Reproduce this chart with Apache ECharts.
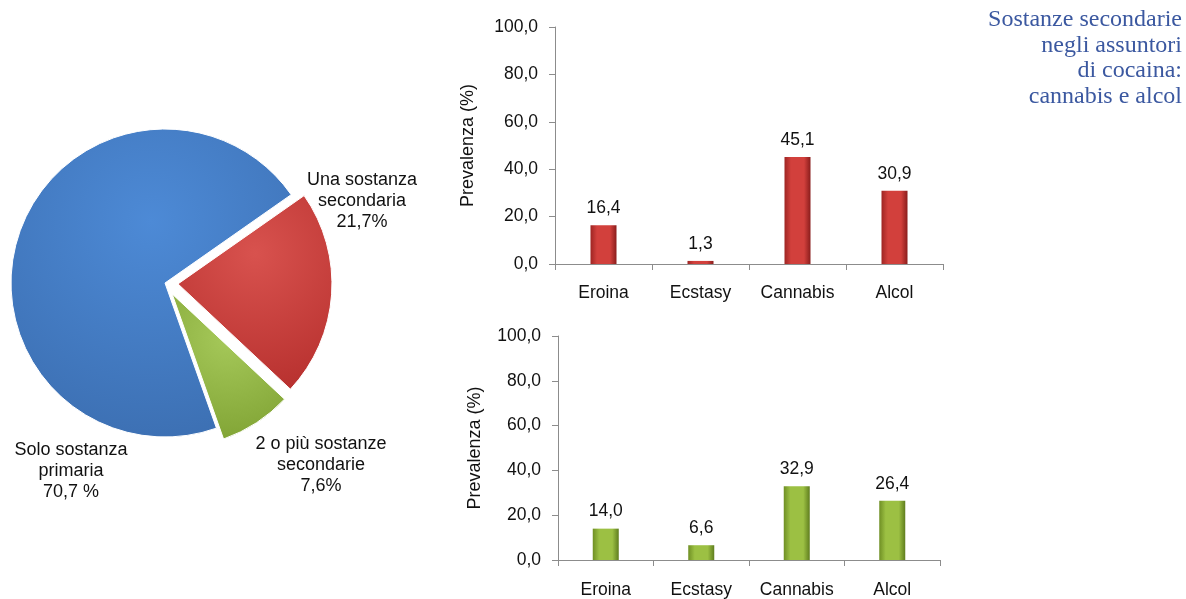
<!DOCTYPE html>
<html>
<head>
<meta charset="utf-8">
<script src="https://cdn.jsdelivr.net/npm/echarts@6/dist/echarts.min.js"></script>
<style>
  html, body { margin: 0; padding: 0; background: #fff; }
  #chart { width: 1186px; height: 599px; }
</style>
</head>
<body>
<div id="chart"></div>
<script>
// dati
const pieNames = ["Una sostanza\nsecondaria", "2 o più sostanze\nsecondarie", "Solo sostanza\nprimaria"];
const pieValues = [21.7, 7.6, 70.7];
const pieSuffix = ["%", "%", " %"];
const categories = ["Eroina", "Ecstasy", "Cannabis", "Alcol"];
const topValues = [16.4, 1.3, 45.1, 30.9];
const bottomValues = [14.0, 6.6, 32.9, 26.4];
const titleText = "Sostanze secondarie\nnegli assuntori\ndi cocaina:\ncannabis e alcol";

const labelPos = [[362, 201], [321, 465], [71, 471]];

const chart = echarts.init(document.getElementById("chart"));
const font = "Liberation Sans, Arial, sans-serif";
const comma = (v) => Number(v).toFixed(1).replace(".", ",");

function barGrad(edge, mid, edge2) {
  return new echarts.graphic.LinearGradient(0, 0, 1, 0, [
    { offset: 0, color: edge },
    { offset: 0.25, color: mid },
    { offset: 0.75, color: mid },
    { offset: 1, color: edge2 },
  ]);
}

function pieGrad(light, dark) {
  return new echarts.graphic.RadialGradient(0.5, 0.3, 0.9, [
    { offset: 0, color: light },
    { offset: 1, color: dark },
  ]);
}

const yAxisBase = (idx, gap) => ({
  gridIndex: idx,
  type: "value",
  min: 0,
  max: 100,
  interval: 20,
  name: "Prevalenza (%)",
  nameLocation: "middle",
  nameGap: gap,
  nameTextStyle: { fontFamily: font, fontSize: 18, color: "#111" },
  axisLine: { show: true, lineStyle: { color: "#8c8c8c" } },
  axisTick: { show: true, length: 6, lineStyle: { color: "#8c8c8c" } },
  splitLine: { show: false },
  axisLabel: { fontFamily: font, fontSize: 17.5, color: "#111", margin: 17, formatter: comma },
});

const xAxisBase = (idx, margin) => ({
  gridIndex: idx,
  type: "category",
  data: categories,
  axisLine: { lineStyle: { color: "#8c8c8c" } },
  axisTick: { show: true, length: 6, lineStyle: { color: "#8c8c8c" } },
  axisLabel: { fontFamily: font, fontSize: 17.5, color: "#111", margin: margin, interval: 0, hideOverlap: false },
});

const barLabel = {
  show: true,
  position: "top",
  distance: 8,
  fontFamily: font,
  fontSize: 17.5,
  color: "#111",
  formatter: (p) => comma(p.value),
};

const graphics = [
  {
    type: "text",
    x: 1182,
    y: 7,
    style: {
      text: titleText,
      font: "24px Liberation Serif, Times New Roman, serif",
      fill: "#3b58a0",
      lineHeight: 25.5,
      align: "right",
      verticalAlign: "top",
    },
  },
];
pieNames.forEach((n, i) => {
  graphics.push({
    type: "text",
    x: labelPos[i][0],
    y: labelPos[i][1],
    style: {
      text: n + "\n" + comma(pieValues[i]) + pieSuffix[i],
      font: "18px " + font,
      fill: "#111",
      lineHeight: 21,
      align: "center",
      verticalAlign: "middle",
    },
  });
});

chart.setOption({
  animation: false,
  graphic: graphics,
  grid: [
    { left: 555, top: 27, right: 243, bottom: 335 },
    { left: 558, top: 336, right: 246, bottom: 37 },
  ],
  xAxis: [xAxisBase(0, 20), xAxisBase(1, 21)],
  yAxis: [yAxisBase(0, 78), yAxisBase(1, 74)],
  series: [
    {
      type: "pie",
      center: [165, 283],
      radius: 154,
      startAngle: 35,
      selectedMode: "multiple",
      selectedOffset: 13,
      itemStyle: { borderColor: "#fff", borderWidth: 1 },
      label: { show: false },
      labelLine: { show: false },
      emphasis: { disabled: true },
      data: [
        { name: pieNames[0], value: pieValues[0], selected: true, itemStyle: { color: pieGrad("#d8524e", "#b8312f") } },
        { name: pieNames[1], value: pieValues[1], selected: true, itemStyle: { color: pieGrad("#a6c95a", "#82a536") } },
        { name: pieNames[2], value: pieValues[2], itemStyle: { color: pieGrad("#4d8ad6", "#3a6cae") } },
      ],
    },
    {
      type: "bar",
      xAxisIndex: 0,
      yAxisIndex: 0,
      barWidth: 26,
      data: topValues,
      label: barLabel,
      itemStyle: { color: barGrad("#9e2523", "#d2403c", "#8a1d1c") },
    },
    {
      type: "bar",
      xAxisIndex: 1,
      yAxisIndex: 1,
      barWidth: 26,
      data: bottomValues,
      label: barLabel,
      itemStyle: { color: barGrad("#6f8f24", "#9cc043", "#5f7d1e") },
    },
  ],
});
</script>
</body>
</html>
